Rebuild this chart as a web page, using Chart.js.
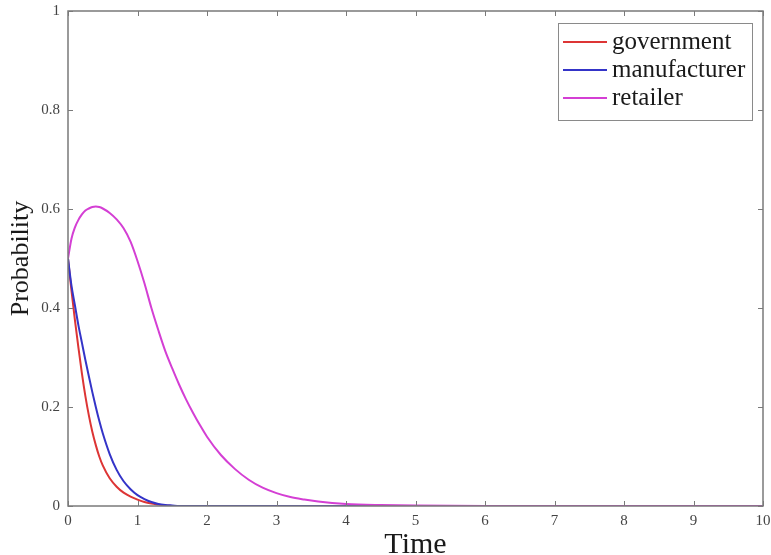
<!DOCTYPE html>
<html>
<head>
<meta charset="utf-8">
<script src="https://cdn.jsdelivr.net/npm/chart.js@4/dist/chart.umd.min.js"></script>
<style>
  html, body { margin: 0; padding: 0; background: #fff; }
  #wrap { width: 771px; height: 555px; position: relative; }
</style>
</head>
<body>
<div id="wrap"><canvas id="chart"></canvas></div>
<script>
// time grid shared by the three curves
const time = [0, 0.05, 0.1, 0.15, 0.2, 0.25, 0.3, 0.35, 0.4, 0.45, 0.5, 0.6, 0.7, 0.8, 0.9, 1.0,
    1.1, 1.2, 1.3, 1.4, 1.5, 1.6, 1.7, 1.8, 1.9, 2.0, 2.2, 2.4, 2.6, 2.8, 3.0, 3.2, 3.4, 3.6, 3.8,
    4.0, 4.5, 5, 6, 7, 8, 9, 10];

const government = [0.5, 0.435, 0.375, 0.32, 0.268, 0.222, 0.183, 0.15, 0.123, 0.1, 0.082, 0.056,
    0.039, 0.027, 0.019, 0.013, 0.008, 0.005, 0.003, 0.001, 0, 0, 0, 0, 0, 0, 0, 0, 0, 0, 0, 0, 0, 0, 0,
    0, 0, 0, 0, 0, 0, 0, 0];

const manufacturer = [0.5, 0.445, 0.405, 0.365, 0.33, 0.295, 0.262, 0.23, 0.2, 0.172, 0.147, 0.105,
    0.073, 0.05, 0.034, 0.022, 0.014, 0.008, 0.004, 0.002, 0.001, 0, 0, 0, 0, 0, 0, 0, 0, 0, 0, 0, 0, 0, 0,
    0, 0, 0, 0, 0, 0, 0, 0];

const retailer = [0.5, 0.54, 0.563, 0.578, 0.589, 0.597, 0.601, 0.604, 0.605, 0.604, 0.601, 0.592,
    0.579, 0.561, 0.534, 0.495, 0.45, 0.4, 0.355, 0.313, 0.278, 0.245, 0.215, 0.188, 0.163, 0.14,
    0.103, 0.075, 0.053, 0.037, 0.026, 0.018, 0.013, 0.009, 0.006, 0.004, 0.002, 0.001, 0, 0, 0, 0, 0];

const xTicks = ["0", "1", "2", "3", "4", "5", "6", "7", "8", "9", "10"];
const yTicks = ["0", "0.2", "0.4", "0.6", "0.8", "1"];

const serif = "'Liberation Serif', 'Times New Roman', serif";
const axisGray = "#7a7a7a";

function points(values) {
    return values.map((v, i) => ({ x: time[i], y: v }));
}

// MATLAB style box with inward ticks on all four sides
const boxPlugin = {
    id: "box",
    afterDatasetsDraw(chart) {
        const ctx = chart.ctx;
        const a = chart.chartArea;
        const xs = chart.scales.x, ys = chart.scales.y;
        const len = 5;
        ctx.save();
        ctx.strokeStyle = axisGray;
        ctx.lineWidth = 1.5;
        ctx.strokeRect(a.left, a.top, a.right - a.left, a.bottom - a.top);
        ctx.lineWidth = 1;
        ctx.beginPath();
        xs.ticks.forEach(t => {
            const px = Math.round(xs.getPixelForValue(t.value)) + 0.5;
            ctx.moveTo(px, a.bottom); ctx.lineTo(px, a.bottom - len);
            ctx.moveTo(px, a.top); ctx.lineTo(px, a.top + len);
        });
        ys.ticks.forEach(t => {
            const py = Math.round(ys.getPixelForValue(t.value)) + 0.5;
            ctx.moveTo(a.left, py); ctx.lineTo(a.left + len, py);
            ctx.moveTo(a.right, py); ctx.lineTo(a.right - len, py);
        });
        ctx.stroke();
        ctx.restore();
    },
    afterDraw(chart) {
        // legend box in the upper right corner
        const ctx = chart.ctx;
        const a = chart.chartArea;
        const w = 194, h = 97;
        const x0 = a.right - 11 - w, y0 = a.top + 12;
        ctx.save();
        ctx.fillStyle = "#fff";
        ctx.fillRect(x0, y0, w, h);
        ctx.strokeStyle = "#8a8a8a";
        ctx.lineWidth = 1;
        ctx.strokeRect(x0 + 0.5, y0 + 0.5, w, h);
        ctx.font = "25px " + serif;
        ctx.textBaseline = "middle";
        ctx.fillStyle = "#1a1a1a";
        chart.data.datasets.forEach((ds, i) => {
            const y = y0 + 19 + i * 28;
            ctx.strokeStyle = ds.borderColor;
            ctx.lineWidth = 2;
            ctx.beginPath();
            ctx.moveTo(x0 + 5, y);
            ctx.lineTo(x0 + 49, y);
            ctx.stroke();
            ctx.fillText(ds.label, x0 + 54, y);
        });
        ctx.restore();
    }
};

new Chart(document.getElementById("chart"), {
    type: "line",
    data: {
        datasets: [
            { label: "government", data: points(government), borderColor: "#dd3535", order: 2 },
            { label: "manufacturer", data: points(manufacturer), borderColor: "#3434c8", order: 1 },
            { label: "retailer", data: points(retailer), borderColor: "#d43fd4", order: 0 }
        ]
    },
    options: {
        responsive: true,
        maintainAspectRatio: false,
        animation: false,
        layout: { padding: { top: 11, right: 8, left: 0, bottom: 0 } },
        elements: {
            point: { radius: 0 },
            line: { borderWidth: 2, cubicInterpolationMode: "monotone", fill: false }
        },
        plugins: {
            legend: { display: false },
            tooltip: { enabled: false }
        },
        scales: {
            x: {
                type: "linear",
                min: 0,
                max: 10,
                afterFit: s => {
                    s.height = 49;
                    s.paddingLeft = 0;
                    s.paddingRight = 0;
                },
                grid: { display: false, drawTicks: false },
                border: { display: false },
                ticks: {
                    stepSize: 1,
                    padding: 6,
                    color: "#444",
                    font: { family: serif, size: 15 },
                    maxRotation: 0,
                    callback: (v, i) => xTicks[i]
                },
                title: {
                    display: true,
                    text: "Time",
                    color: "#1a1a1a",
                    font: { family: serif, size: 30, lineHeight: 1 },
                    padding: { top: 0, bottom: -5 }
                }
            },
            y: {
                min: 0,
                max: 1,
                afterFit: s => {
                    s.width = 68;
                    s.paddingTop = 0;
                    s.paddingBottom = 0;
                },
                grid: { display: false, drawTicks: false },
                border: { display: false },
                ticks: {
                    stepSize: 0.2,
                    padding: 8,
                    color: "#444",
                    font: { family: serif, size: 15 },
                    callback: (v, i) => yTicks[i]
                },
                title: {
                    display: true,
                    text: "Probability",
                    color: "#1a1a1a",
                    font: { family: serif, size: 26, lineHeight: 1 },
                    padding: { top: 8, bottom: 0 }
                }
            }
        }
    },
    plugins: [boxPlugin]
});
</script>
</body>
</html>
